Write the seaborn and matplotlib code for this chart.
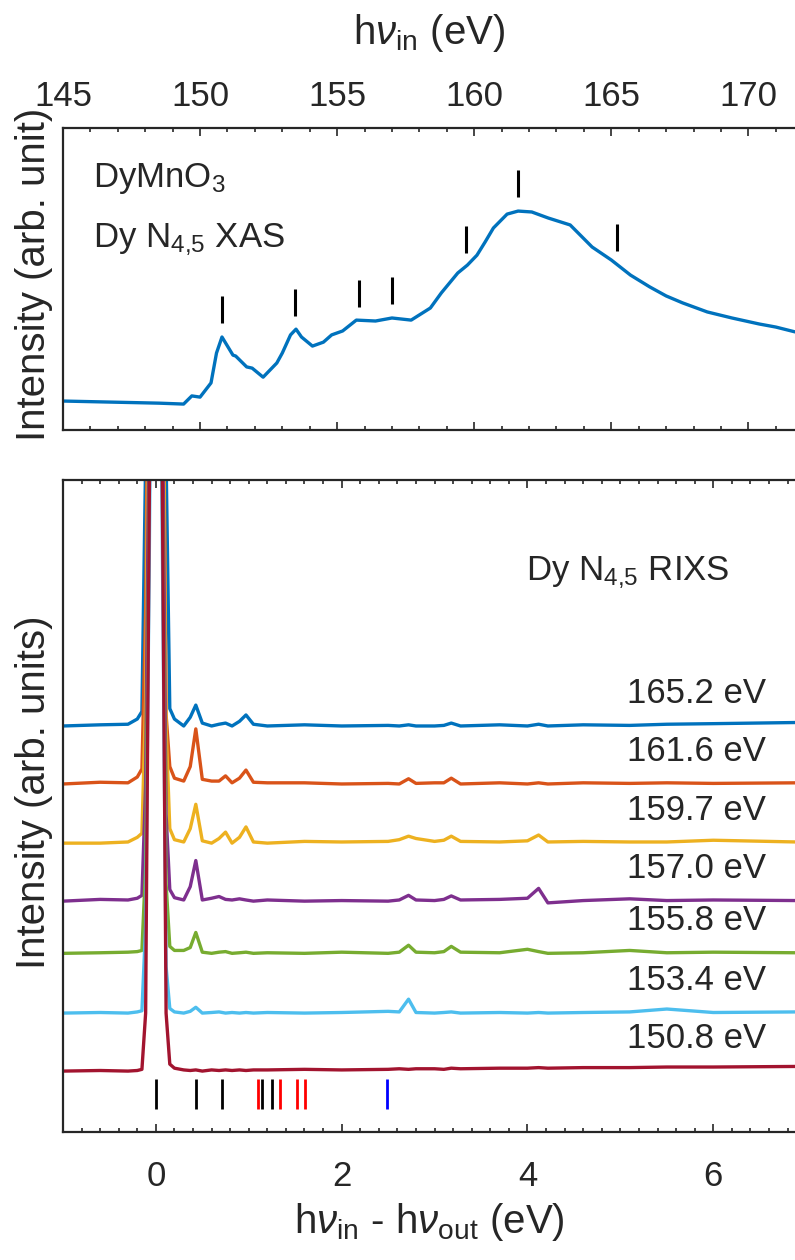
import numpy as np
import pandas as pd
import matplotlib
matplotlib.use("Agg")
import matplotlib.pyplot as plt
from matplotlib.ticker import MultipleLocator
import seaborn as sns

# ---- XAS (top panel) ----
xas_energy = [145.0, 148.5, 149.4, 149.7, 150.0, 150.4, 150.6, 150.8, 151.2, 151.3,
              151.7, 151.9, 152.3, 152.8, 153.0, 153.3, 153.5, 153.7, 154.1, 154.5,
              154.8, 155.2, 155.7, 156.4, 157.0, 157.7, 158.4, 158.8, 159.4, 159.75,
              160.1, 160.4, 160.7, 161.2, 161.6, 162.1, 162.7, 163.5, 164.3, 165.0,
              165.7, 166.4, 167.0, 167.6, 168.5, 169.4, 170.4, 171.0, 171.7]
xas_intensity = [0.096, 0.089, 0.086, 0.113, 0.109, 0.156, 0.255, 0.308, 0.248, 0.245,
                 0.209, 0.205, 0.175, 0.222, 0.255, 0.315, 0.334, 0.308, 0.278, 0.291,
                 0.315, 0.328, 0.364, 0.361, 0.371, 0.364, 0.404, 0.454, 0.520, 0.546,
                 0.579, 0.623, 0.669, 0.715, 0.725, 0.722, 0.702, 0.679, 0.606, 0.563,
                 0.513, 0.474, 0.444, 0.421, 0.391, 0.371, 0.351, 0.341, 0.325]

mark_energy = [150.8, 153.45, 155.8, 157.0, 159.7, 161.6, 165.2]
mark_bottom = [0.354, 0.377, 0.407, 0.417, 0.586, 0.772, 0.593]
mark_len = 0.09

# ---- RIXS (bottom panel) ----
loss = [-1.0, -0.6, -0.3, -0.2, -0.15, -0.11, -0.07, -0.04, 0.0, 0.04, 0.07, 0.11,
        0.15, 0.2, 0.3, 0.37, 0.43, 0.5, 0.6, 0.68, 0.75, 0.82, 0.9, 0.97, 1.05,
        1.2, 1.6, 2.0, 2.5, 2.62, 2.72, 2.8, 3.0, 3.1, 3.18, 3.28, 3.7, 4.0, 4.12,
        4.22, 4.6, 5.1, 5.5, 6.0, 6.9]

rixs_165_2 = [0.0, 0.02, 0.03, 0.12, 0.25, 4.6, 9, 12, 14, 12, 9, 4.6,
              0.3, 0.12, 0.0, 0.15, 0.36, 0.05, 0.0, 0.03, 0.05, 0.0, 0.08, 0.19, 0.03,
              0.0, 0.02, 0.0, 0.01, 0.0, 0.02, 0.0, 0.0, 0.01, 0.05, 0.0, 0.02, 0.0, 0.03,
              0.0, 0.02, 0.01, 0.03, 0.04, 0.06]
rixs_161_6 = [0.0, 0.03, 0.02, 0.12, 0.26, 3.0, 10, 14, 16, 14, 10, 1.2,
              0.3, 0.1, 0.05, 0.3, 0.95, 0.08, 0.05, 0.05, 0.14, 0.02, 0.1, 0.24, 0.03,
              0.02, 0.02, 0.0, 0.01, 0.0, 0.09, 0.01, 0.02, 0.02, 0.1, 0.0, 0.02, 0.0, 0.02,
              0.0, 0.02, 0.01, 0.02, 0.01, 0.02]
rixs_159_7 = [0.0, 0.0, 0.02, 0.1, 0.17, 2.5, 10, 14, 16, 14, 10, 2.0,
              0.25, 0.06, 0.02, 0.25, 0.67, 0.04, 0.0, 0.08, 0.19, 0.0, 0.1, 0.28, 0.02,
              0.0, 0.03, 0.02, 0.03, 0.06, 0.12, 0.08, 0.03, 0.05, 0.12, 0.03, 0.02, 0.04, 0.14,
              0.02, 0.03, 0.02, 0.02, 0.05, 0.02]
rixs_157_0 = [0.0, 0.03, 0.02, 0.05, 0.1, 2.0, 9, 14, 16, 14, 9, 1.5,
              0.2, 0.06, 0.02, 0.25, 0.7, 0.02, 0.05, 0.08, 0.03, 0.02, 0.04, 0.02, 0.0,
              0.02, 0.0, 0.01, 0.0, 0.02, 0.1, 0.02, 0.01, 0.03, 0.09, 0.02, 0.03, 0.05, 0.22,
              -0.03, 0.01, 0.04, 0.01, 0.02, 0.01]
rixs_155_8 = [0.0, 0.01, 0.02, 0.03, 0.05, 1.5, 8, 14, 16, 14, 8, 1.2,
              0.12, 0.05, 0.05, 0.1, 0.36, 0.02, 0.0, 0.02, 0.03, 0.0, 0.01, 0.02, 0.0,
              0.01, 0.0, 0.02, 0.0, 0.02, 0.14, 0.02, 0.01, 0.03, 0.12, 0.02, 0.01, 0.07, 0.03,
              0.0, 0.01, 0.05, 0.01, 0.02, 0.01]
rixs_153_4 = [0.0, 0.01, 0.0, 0.02, 0.04, 1.5, 8, 14, 16, 14, 8, 0.8,
              0.08, 0.02, 0.0, 0.03, 0.1, 0.0, 0.01, 0.02, 0.0, 0.01, 0.0, 0.01, 0.0,
              0.01, 0.0, 0.01, 0.03, 0.02, 0.24, 0.01, 0.0, 0.01, 0.02, 0.0, 0.01, 0.0, 0.01,
              0.0, 0.01, 0.02, 0.07, 0.01, 0.02]
rixs_150_8 = [0.0, 0.01, 0.0, 0.01, 0.03, 1.0, 10, 16, 18, 16, 10, 1.0,
              0.12, 0.05, 0.02, 0.01, 0.02, 0.0, 0.02, 0.01, 0.02, 0.01, 0.02, 0.01, 0.02,
              0.02, 0.03, 0.02, 0.03, 0.04, 0.03, 0.04, 0.04, 0.03, 0.05, 0.04, 0.05, 0.05, 0.06,
              0.05, 0.06, 0.06, 0.07, 0.07, 0.08]

spectra = [rixs_165_2, rixs_161_6, rixs_159_7, rixs_157_0, rixs_155_8, rixs_153_4, rixs_150_8]
energy_labels = ["165.2 eV", "161.6 eV", "159.7 eV", "157.0 eV", "155.8 eV", "153.4 eV", "150.8 eV"]
offsets = [7.0, 6.0, 4.98, 3.98, 3.08, 2.05, 1.05]
colors = ["#0072BD", "#D95319", "#EDB120", "#7E2F8E", "#77AC30", "#4DBEEE", "#A2142F"]

# excitation sticks
stick_black = [0.0, 0.43, 0.71, 1.14, 1.25]
stick_red = [1.10, 1.34, 1.52, 1.61]
stick_blue = [2.49]
stick_lo, stick_hi = 0.40, 0.91

sns.set_theme(style="ticks")
plt.rcParams["font.family"] = ["Liberation Sans", "DejaVu Sans"]
plt.rcParams["mathtext.fontset"] = "custom"
plt.rcParams["mathtext.rm"] = "Liberation Sans"
plt.rcParams["mathtext.it"] = "Liberation Sans:italic"
plt.rcParams["axes.edgecolor"] = "#262626"
plt.rcParams["axes.linewidth"] = 1.6

fs = 25      # ticks and annotations
lfs = 29     # axis labels

fig = plt.figure(figsize=(7.95, 12.6), dpi=100)
ax1 = fig.add_axes([0.0792, 0.6587, 1 - 0.0792, 0.8984 - 0.6587])
ax2 = fig.add_axes([0.0792, 0.1016, 1 - 0.0792, 0.619 - 0.1016])

# top panel
xas = pd.DataFrame({"energy": xas_energy, "intensity": xas_intensity})
sns.lineplot(data=xas, x="energy", y="intensity", ax=ax1, color="#0072BD", lw=2.4, sort=False)
ax1.vlines(mark_energy, mark_bottom, np.array(mark_bottom) + mark_len, color="black", lw=2.2)
ax1.set_xlim(145, 171.7)
ax1.set_ylim(0, 1)
ax1.xaxis.set_major_locator(MultipleLocator(5))
ax1.xaxis.set_minor_locator(MultipleLocator(1))
ax1.tick_params(axis="x", which="both", direction="in", top=True, bottom=True,
                labeltop=True, labelbottom=False, labelsize=fs, colors="#262626")
ax1.tick_params(axis="x", which="major", length=6, width=1.2, pad=11)
ax1.tick_params(axis="x", which="minor", length=3, width=1.2)
ax1.set_yticks([])
ax1.xaxis.set_label_position("top")
ax1.set_xlabel(r"h$\nu_{\mathrm{in}}$ (eV)", fontsize=lfs, labelpad=26)
ax1.set_ylabel("Intensity (arb. unit)", fontsize=lfs)
ax1.yaxis.set_label_coords(-0.0137, 0.515)
ax1.spines["right"].set_visible(False)
ax1.text(146.1, 0.805, r"DyMnO$_3$", fontsize=fs, va="baseline")
ax1.text(146.1, 0.606, r"Dy N$_{4{,}5}$ XAS", fontsize=fs, va="baseline")

# bottom panel
for vals, off, col in zip(spectra, offsets, colors):
    df = pd.DataFrame({"loss": loss, "y": np.array(vals) + off})
    sns.lineplot(data=df, x="loss", y="y", ax=ax2, color=col, lw=2.4, sort=False)
for lab, off in zip(energy_labels, offsets):
    ax2.text(6.57, off + 0.4, lab, fontsize=fs, ha="right", va="baseline")
ax2.vlines(stick_black, stick_lo, stick_hi, color="black", lw=2)
ax2.vlines(stick_red, stick_lo, stick_hi, color="red", lw=2)
ax2.vlines(stick_blue, stick_lo, stick_hi, color="blue", lw=2)
ax2.text(3.98, 9.52, r"Dy N$_{4{,}5}$ RIXS", fontsize=fs, va="baseline")
ax2.set_xlim(-1, 6.88)
ax2.set_ylim(0, 11.24)
ax2.xaxis.set_major_locator(MultipleLocator(2))
ax2.xaxis.set_minor_locator(MultipleLocator(0.2))
ax2.tick_params(axis="x", which="both", direction="in", top=True, bottom=True,
                labelsize=fs, colors="#262626")
ax2.tick_params(axis="x", which="major", length=6, width=1.2, pad=20)
ax2.tick_params(axis="x", which="minor", length=3, width=1.2)
ax2.set_yticks([])
ax2.set_xlabel(r"h$\nu_{\mathrm{in}}$ - h$\nu_{\mathrm{out}}$ (eV)", fontsize=lfs, labelpad=6)
ax2.set_ylabel("Intensity (arb. units)", fontsize=lfs)
ax2.yaxis.set_label_coords(-0.0137, 0.521)
ax2.spines["right"].set_visible(False)

fig.savefig("out.png", dpi=100)
